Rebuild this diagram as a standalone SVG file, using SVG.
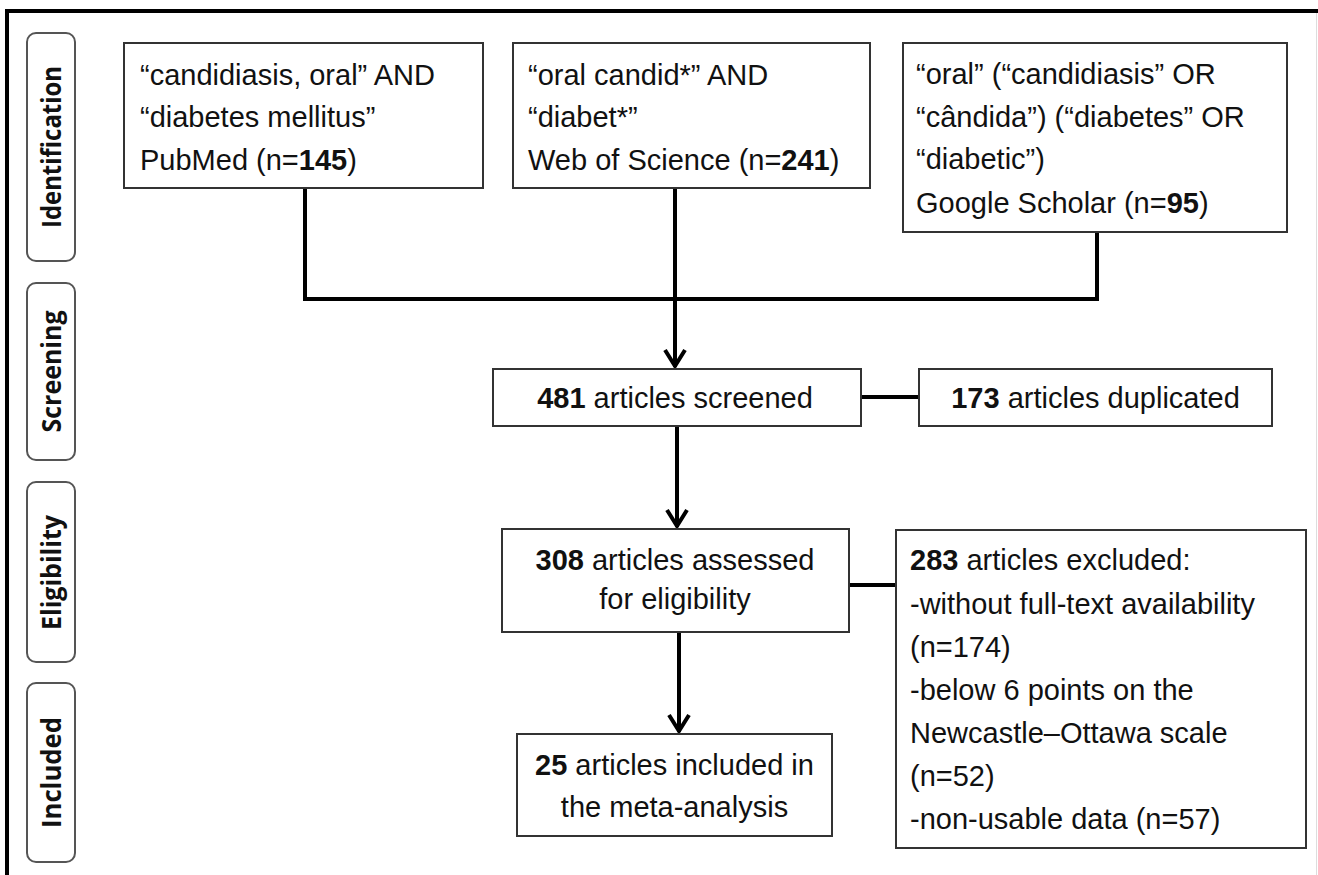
<svg xmlns="http://www.w3.org/2000/svg" width="1318" height="875" viewBox="0 0 1318 875">
<style>
.box{fill:#fff;stroke:#333;stroke-width:2}
.lab{fill:#fff;stroke:#555;stroke-width:2}
.t{font-family:"Liberation Sans",Arial,sans-serif;font-size:29px;fill:#111}
.c{text-anchor:middle}
.b{font-weight:bold}
.lt{font-family:"Open Sans","DejaVu Sans",sans-serif;font-weight:bold;font-size:26px;fill:#111;text-anchor:middle}
.ln{fill:none;stroke:#000;stroke-width:4}
</style>
<defs>
<marker id="arr" markerUnits="userSpaceOnUse" markerWidth="30" markerHeight="30" viewBox="-20 -15 30 30" refX="0" refY="0" orient="auto">
<path d="M -17 -10 L -1 0 L -17 10" fill="none" stroke="#000" stroke-width="4"/>
</marker>
</defs>
<rect width="1318" height="875" fill="#fff"/>
<g id="frame">
<line x1="5" y1="11" x2="1318" y2="11" stroke="#000" stroke-width="4"/>
<line x1="7" y1="9" x2="7" y2="875" stroke="#000" stroke-width="4"/>
<line x1="1316.5" y1="13" x2="1316.5" y2="875" stroke="#ddd" stroke-width="1"/>
</g>
<g id="label-identification">
<rect class="lab" x="27" y="33" width="48" height="228" rx="9"/>
<text class="lt" transform="translate(61,147) rotate(-90)" textLength="162" lengthAdjust="spacingAndGlyphs">Identification</text>
</g>
<g id="label-screening">
<rect class="lab" x="27" y="283" width="48" height="177" rx="9"/>
<text class="lt" transform="translate(61,371.5) rotate(-90)" textLength="122" lengthAdjust="spacingAndGlyphs">Screening</text>
</g>
<g id="label-eligibility">
<rect class="lab" x="27" y="482" width="48" height="180" rx="9"/>
<text class="lt" transform="translate(61,572.5) rotate(-90)" textLength="115" lengthAdjust="spacingAndGlyphs">Eligibility</text>
</g>
<g id="label-included">
<rect class="lab" x="27" y="683" width="48" height="179" rx="9"/>
<text class="lt" transform="translate(61,772.5) rotate(-90)" textLength="111" lengthAdjust="spacingAndGlyphs">Included</text>
</g>
<g id="connectors">
<line class="ln" x1="305" y1="189" x2="305" y2="301"/>
<line class="ln" x1="1097" y1="233" x2="1097" y2="301"/>
<line class="ln" x1="303" y1="299" x2="1099" y2="299"/>
<line class="ln" x1="675" y1="189" x2="675" y2="367" marker-end="url(#arr)"/>
<line class="ln" x1="861" y1="397" x2="919" y2="397"/>
<line class="ln" x1="677" y1="427" x2="677" y2="527" marker-end="url(#arr)"/>
<line class="ln" x1="849" y1="585" x2="896" y2="585"/>
<line class="ln" x1="679" y1="633" x2="679" y2="732" marker-end="url(#arr)"/>
</g>
<g id="pubmed">
<rect class="box" x="124" y="43" width="359" height="145"/>
<text class="t" x="140" y="85">“candidiasis, oral” AND</text>
<text class="t" x="140" y="127">“diabetes mellitus”</text>
<text class="t" x="140" y="170">PubMed (n=<tspan class="b">145</tspan>)</text>
</g>
<g id="wos">
<rect class="box" x="513" y="43" width="357" height="145"/>
<text class="t" x="528" y="85">“oral candid*” AND</text>
<text class="t" x="528" y="127">“diabet*”</text>
<text class="t" x="528" y="170">Web of Science (n=<tspan class="b">241</tspan>)</text>
</g>
<g id="scholar">
<rect class="box" x="903" y="43" width="384" height="189"/>
<text class="t" x="916" y="84">“oral” (“candidiasis” OR</text>
<text class="t" x="916" y="127">“cândida”) (“diabetes” OR</text>
<text class="t" x="916" y="169">“diabetic”)</text>
<text class="t" x="916" y="213">Google Scholar (n=<tspan class="b">95</tspan>)</text>
</g>
<g id="screened">
<rect class="box" x="493" y="369" width="368" height="57"/>
<text class="t c" x="675" y="408"><tspan class="b">481</tspan> articles screened</text>
</g>
<g id="duplicated">
<rect class="box" x="919" y="369" width="353" height="57"/>
<text class="t c" x="1095.5" y="408"><tspan class="b">173</tspan> articles duplicated</text>
</g>
<g id="assessed">
<rect class="box" x="502" y="529" width="347" height="103"/>
<text class="t c" x="675" y="570"><tspan class="b">308</tspan> articles assessed</text>
<text class="t c" x="675" y="609">for eligibility</text>
</g>
<g id="excluded">
<rect class="box" x="896" y="530" width="410" height="318"/>
<text class="t" x="910" y="570"><tspan class="b">283</tspan> articles excluded:</text>
<text class="t" x="910" y="614">-without full-text availability</text>
<text class="t" x="910" y="657">(n=174)</text>
<text class="t" x="910" y="700">-below 6 points on the</text>
<text class="t" x="910" y="743">Newcastle–Ottawa scale</text>
<text class="t" x="910" y="786">(n=52)</text>
<text class="t" x="910" y="829">-non-usable data (n=57)</text>
</g>
<g id="included">
<rect class="box" x="517" y="734" width="315" height="102"/>
<text class="t c" x="674.5" y="775"><tspan class="b">25</tspan> articles included in</text>
<text class="t c" x="674.5" y="817">the meta-analysis</text>
</g>
</svg>
